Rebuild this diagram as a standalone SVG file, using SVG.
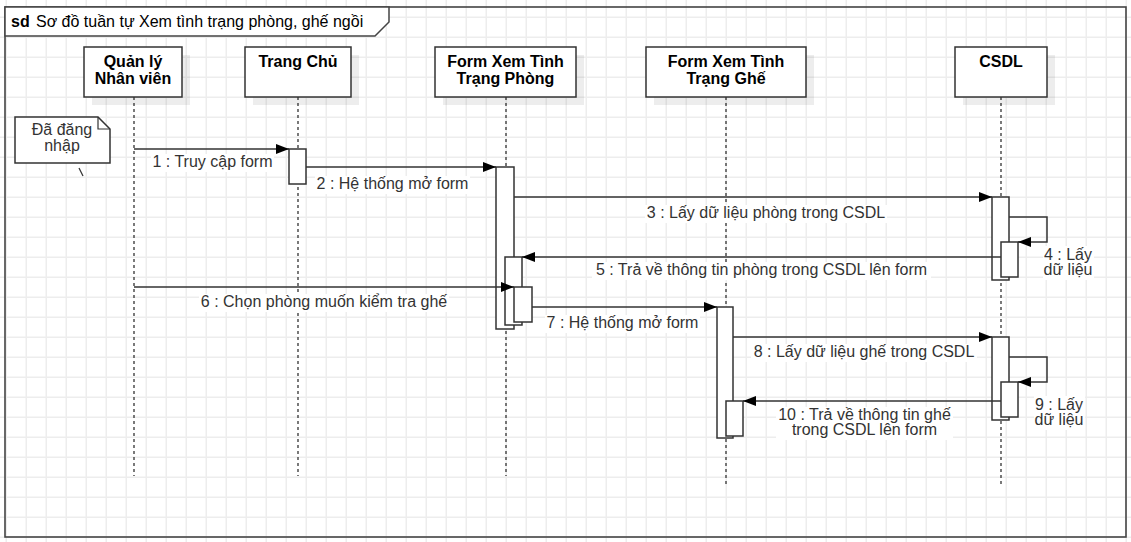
<svg xmlns="http://www.w3.org/2000/svg" width="1131" height="542" viewBox="0 0 1131 542">
<style>
text{font-family:"Liberation Sans",Arial,sans-serif;font-size:16px;}
.bx{fill:#fff;stroke:#333;stroke-width:1.5;}
.sh{fill:#000;fill-opacity:0.07;}
.nm{font-weight:bold;fill:#000;text-anchor:middle;}
.ll{stroke:#333;stroke-width:1.3;stroke-dasharray:3,3;fill:none;}
.act{fill:#fff;stroke:#333;stroke-width:1.5;}
.msg{stroke:#333;stroke-width:1.5;fill:none;}
.lb{fill:#333;text-anchor:middle;}
.lbg{fill:#fff;}
</style>
<defs>
<pattern id="grid" patternUnits="userSpaceOnUse" x="0" y="0" width="20" height="20">
<rect x="5.5" y="0" width="1.5" height="20" fill="#ededed"/>
<rect x="0" y="16.5" width="20" height="1.5" fill="#ededed"/>
</pattern>
<marker id="arr" markerUnits="userSpaceOnUse" markerWidth="14" markerHeight="12" refX="13" refY="5" orient="auto">
<path d="M0,0 L13,5 L0,10 Z" fill="#000"/>
</marker>
</defs>
<rect width="1131" height="542" fill="#fff"/>
<rect width="1131" height="542" fill="url(#grid)"/>

<g id="frame">
<rect x="5" y="7" width="1121" height="530" fill="none" stroke="#444" stroke-width="1.6"/>
<path d="M5,7 H389 V22 L375,36 H5 Z" fill="#fff" stroke="#444" stroke-width="1.5"/>
<text x="11" y="27" font-weight="bold" fill="#000">sd</text>
<text x="36" y="27" fill="#000">Sơ đồ tuần tự Xem tình trạng phòng, ghế ngồi</text>
</g>

<g id="lifelines">
<line class="ll" x1="134" y1="97" x2="134" y2="476"/>
<line class="ll" x1="298" y1="97" x2="298" y2="476"/>
<line class="ll" x1="506" y1="97" x2="506" y2="476"/>
<line class="ll" x1="726" y1="97" x2="726" y2="484"/>
<line class="ll" x1="1001" y1="97" x2="1001" y2="484"/>
</g>

<g id="node-quanly">
<rect class="sh" x="92" y="55" width="98" height="50"/>
<rect class="bx" x="84" y="47" width="98" height="50"/>
<text class="nm" x="133" y="67">Quản lý</text>
<text class="nm" x="133" y="84">Nhân viên</text>
</g>
<g id="node-trangchu">
<rect class="sh" x="253" y="55" width="106" height="50"/>
<rect class="bx" x="245" y="47" width="106" height="50"/>
<text class="nm" x="298" y="67">Trang Chủ</text>
</g>
<g id="node-formphong">
<rect class="sh" x="443" y="55" width="141" height="50"/>
<rect class="bx" x="435" y="47" width="141" height="50"/>
<text class="nm" x="505.5" y="67">Form Xem Tình</text>
<text class="nm" x="505.5" y="84">Trạng Phòng</text>
</g>
<g id="node-formghe">
<rect class="sh" x="654" y="55" width="160" height="50"/>
<rect class="bx" x="646" y="47" width="160" height="50"/>
<text class="nm" x="726" y="67">Form Xem Tình</text>
<text class="nm" x="726" y="84">Trạng Ghế</text>
</g>
<g id="node-csdl">
<rect class="sh" x="963" y="55" width="92" height="50"/>
<rect class="bx" x="955" y="47" width="92" height="50"/>
<text class="nm" x="1001" y="67">CSDL</text>
</g>

<g id="note">
<path d="M15,117 H98 L110,129 V163 H15 Z" fill="#fff" stroke="#333" stroke-width="1.5"/>
<path d="M98,117 V129 H110" fill="none" stroke="#333" stroke-width="1.2"/>
<text class="lb" x="62" y="135" fill="#000">Đã đăng</text>
<text class="lb" x="62" y="151" fill="#000">nhập</text>
<line x1="79" y1="168" x2="83" y2="176" stroke="#333" stroke-width="1.2"/>
</g>

<g id="activations">
<rect class="act" x="289" y="149" width="17" height="35"/>
<rect class="act" x="496" y="167" width="18" height="162"/>
<rect class="act" x="505" y="257" width="17" height="68"/>
<rect class="act" x="514" y="287" width="18" height="35"/>
<rect class="act" x="992" y="197" width="17" height="83"/>
<rect class="act" x="1001" y="242" width="17" height="35"/>
<rect class="act" x="717" y="307" width="16" height="131"/>
<rect class="act" x="726" y="401" width="17" height="35"/>
<rect class="act" x="992" y="337" width="17" height="83"/>
<rect class="act" x="1001" y="382" width="17" height="35"/>
</g>

<g id="connectors">
<line class="msg" x1="134" y1="149" x2="289" y2="149" marker-end="url(#arr)"/>
<line class="msg" x1="306" y1="167" x2="496" y2="167" marker-end="url(#arr)"/>
<line class="msg" x1="514" y1="197" x2="992" y2="197" marker-end="url(#arr)"/>
<path class="msg" d="M1009,217 H1047 V242 H1018" marker-end="url(#arr)"/>
<line class="msg" x1="1001" y1="257" x2="522" y2="257" marker-end="url(#arr)"/>
<line class="msg" x1="134" y1="287" x2="514" y2="287" marker-end="url(#arr)"/>
<line class="msg" x1="532" y1="307" x2="717" y2="307" marker-end="url(#arr)"/>
<line class="msg" x1="733" y1="337" x2="992" y2="337" marker-end="url(#arr)"/>
<path class="msg" d="M1009,357 H1047 V382 H1018" marker-end="url(#arr)"/>
<line class="msg" x1="1001" y1="401" x2="743" y2="401" marker-end="url(#arr)"/>

<rect class="lbg" x="151" y="154" width="123" height="18"/>
<text class="lb" x="212.5" y="167">1 : Truy cập form</text>
<rect class="lbg" x="315" y="176" width="155" height="18"/>
<text class="lb" x="392.5" y="189">2 : Hệ thống mở form</text>
<rect class="lbg" x="645" y="205" width="242" height="18"/>
<text class="lb" x="766" y="218">3 : Lấy dữ liệu phòng trong CSDL</text>
<rect class="lbg" x="1043" y="246" width="51" height="34"/>
<text class="lb" x="1068" y="260">4 : Lấy</text>
<text class="lb" x="1068" y="275">dữ liệu</text>
<rect class="lbg" x="592" y="262" width="339" height="18"/>
<text class="lb" x="761.5" y="275">5 : Trả về thông tin phòng trong CSDL lên form</text>
<rect class="lbg" x="199" y="294" width="250" height="18"/>
<text class="lb" x="324" y="307">6 : Chọn phòng muốn kiểm tra ghế</text>
<rect class="lbg" x="545" y="315" width="155" height="18"/>
<text class="lb" x="622.5" y="328">7 : Hệ thống mở form</text>
<rect class="lbg" x="751" y="344" width="226" height="18"/>
<text class="lb" x="864" y="357">8 : Lấy dữ liệu ghế trong CSDL</text>
<rect class="lbg" x="1034" y="396" width="51" height="34"/>
<text class="lb" x="1059" y="410">9 : Lấy</text>
<text class="lb" x="1059" y="425">dữ liệu</text>
<rect class="lbg" x="776" y="407" width="177" height="33"/>
<text class="lb" x="864.5" y="420">10 : Trả về thông tin ghế</text>
<text class="lb" x="864.5" y="435">trong CSDL lên form</text>
</g>
</svg>
